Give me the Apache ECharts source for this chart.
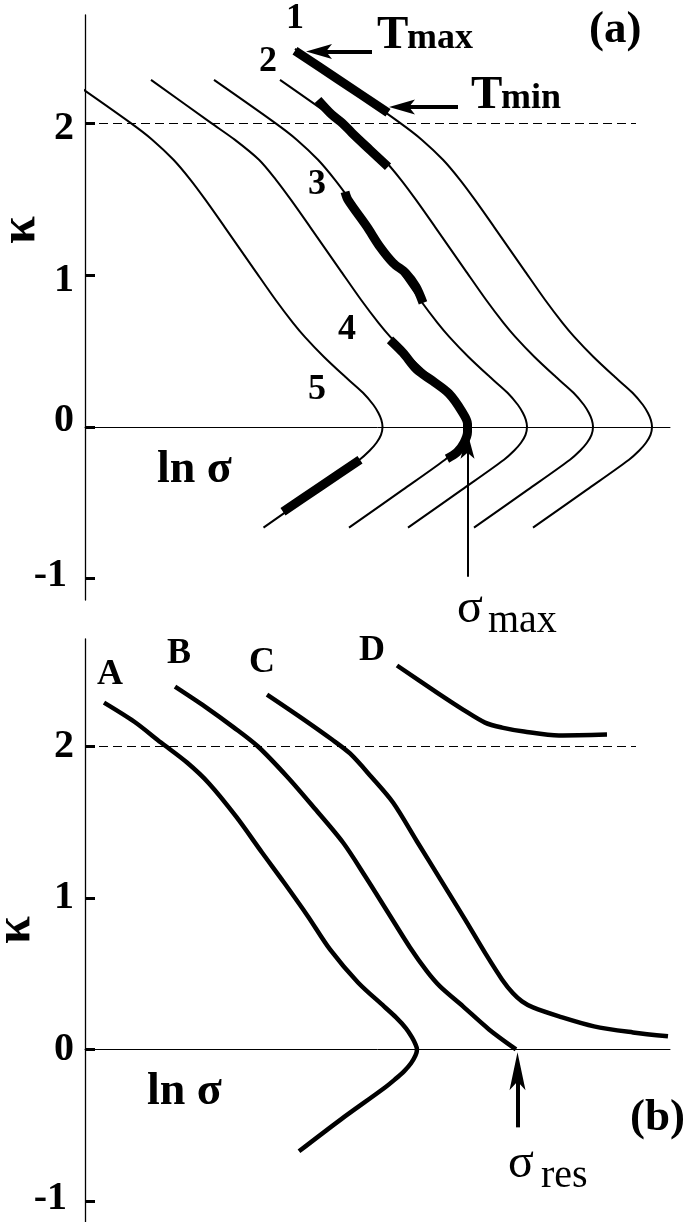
<!DOCTYPE html>
<html><head><meta charset="utf-8">
<script src="https://cdn.jsdelivr.net/npm/echarts@6/dist/echarts.min.js"></script>
<style>html,body{margin:0;padding:0;background:#fff}#c{width:685px;height:1222px}</style>
</head><body><div id="c"></div>
<script>
// ---- data (x = ln sigma, arbitrary units; y = kappa) ----
const kappaTicks = [-1, 0, 1, 2];
const kappaLabels = ['-1', '0', '1', '2'];

// panel (a): thin curves
const thin1 = [[-0.155,2.283],[0.455,2.000],[0.675,1.888],[0.885,1.757],[1.055,1.625],[1.205,1.493],[1.395,1.316],[1.695,1.033],[1.905,0.836],[2.080,0.684],[2.198,0.592],[2.388,0.461],[2.602,0.329],[2.780,0.224],[2.883,0.145],[2.933,0.092],[2.963,0.046],[2.975,0.000],[2.960,-0.053],[2.915,-0.105],[2.845,-0.158],[2.745,-0.217],[2.325,-0.414],[1.785,-0.664]];
const thin2 = [[0.66,2.283],[1.26,2.000],[1.50,1.888],[1.74,1.757],[1.91,1.625],[2.06,1.493],[2.25,1.316],[2.55,1.033],[2.76,0.836],[2.935,0.684],[3.053,0.592],[3.243,0.461],[3.457,0.329],[3.635,0.224],[3.738,0.145],[3.788,0.092],[3.818,0.046],[3.83,0.000],[3.815,-0.053],[3.77,-0.105],[3.70,-0.158],[3.60,-0.217],[3.18,-0.414],[2.64,-0.664]];
const thin3 = [[1.29,2.283],[1.90,2.000],[2.12,1.888],[2.33,1.757],[2.50,1.625],[2.65,1.493],[2.84,1.316],[3.14,1.033],[3.35,0.836],[3.525,0.684],[3.643,0.592],[3.833,0.461],[4.047,0.329],[4.225,0.224],[4.328,0.145],[4.378,0.092],[4.408,0.046],[4.42,0.000],[4.405,-0.053],[4.36,-0.105],[4.29,-0.158],[4.19,-0.217],[3.77,-0.414],[3.23,-0.664]];
const thin4 = [[1.95,2.283],[2.56,2.000],[2.78,1.888],[2.99,1.757],[3.16,1.625],[3.31,1.493],[3.50,1.316],[3.80,1.033],[4.01,0.836],[4.185,0.684],[4.303,0.592],[4.493,0.461],[4.707,0.329],[4.885,0.224],[4.988,0.145],[5.038,0.092],[5.068,0.046],[5.08,0.000],[5.065,-0.053],[5.02,-0.105],[4.95,-0.158],[4.85,-0.217],[4.43,-0.414],[3.89,-0.664]];
const thin5 = [[2.10,2.487],[2.54,2.283],[3.15,2.000],[3.37,1.888],[3.58,1.757],[3.75,1.625],[3.90,1.493],[4.09,1.316],[4.39,1.033],[4.60,0.836],[4.775,0.684],[4.893,0.592],[5.083,0.461],[5.297,0.329],[5.475,0.224],[5.578,0.145],[5.628,0.092],[5.658,0.046],[5.67,0.000],[5.655,-0.053],[5.61,-0.105],[5.54,-0.158],[5.44,-0.217],[5.02,-0.414],[4.48,-0.664]];

// panel (a): thick trajectory segments 1..5
const seg1 = [[2.10,2.474],[2.54,2.283],[3.03,2.066]];
const seg2 = [[2.33,2.151],[2.47,2.053],[2.57,2.000],[2.67,1.934],[2.85,1.822],[3.03,1.711]];
const seg3 = [[2.60,1.546],[2.63,1.493],[2.82,1.316],[2.95,1.184],[3.08,1.079],[3.21,1.010],[3.31,0.921],[3.38,0.816]];
const seg4 = [[3.05,0.572],[3.18,0.487],[3.32,0.375],[3.48,0.300],[3.64,0.218],[3.77,0.100],[3.825,0.020],[3.825,-0.035],[3.79,-0.105],[3.72,-0.168],[3.62,-0.210]];
const seg5 = [[2.75,-0.217],[2.35,-0.395],[1.98,-0.559]];

// panel (b): curves A..D
const curveA = [[0.19,2.290],[0.49,2.165],[0.76,2.026],[1.02,1.894],[1.24,1.756],[1.51,1.538],[1.77,1.300],[1.99,1.102],[2.23,0.878],[2.45,0.660],[2.73,0.442],[2.99,0.284],[3.11,0.211],[3.21,0.139],[3.27,0.079],[3.305,0.033],[3.32,0.000],[3.305,-0.040],[3.26,-0.092],[3.19,-0.145],[3.10,-0.198],[2.99,-0.257],[2.56,-0.462],[2.14,-0.673]];
const curveB = [[0.90,2.396],[1.20,2.264],[1.49,2.125],[1.73,2.000],[2.02,1.802],[2.28,1.604],[2.58,1.366],[2.81,1.135],[3.03,0.904],[3.25,0.673],[3.42,0.515],[3.55,0.416],[3.78,0.284],[4.04,0.132],[4.31,0.000]];
const curveC = [[1.82,2.343],[2.16,2.191],[2.47,2.046],[2.65,1.954],[2.86,1.802],[3.08,1.630],[3.32,1.373],[3.56,1.116],[3.80,0.858],[4.01,0.627],[4.17,0.462],[4.28,0.370],[4.37,0.317],[4.48,0.277],[4.74,0.218],[5.09,0.152],[5.48,0.112],[5.83,0.086]];
const curveD = [[3.12,2.535],[3.52,2.356],[3.78,2.244],[4.00,2.158],[4.17,2.125],[4.39,2.099],[4.74,2.073],[5.22,2.079]];

// reference levels / markers
const kappaDashed = 2;
const sigmaMaxX = 3.825;
const sigmaResX = 4.325;

// ---- chart ----
const FONT = '"Liberation Serif","Times New Roman",serif';
const ARROW = 'path://M6,0 L12,26 L6,20 L0,26 Z';
const chart = echarts.init(document.getElementById('c'), null, {renderer: 'canvas'});

function xAxisCfg(gi) {
  return {type: 'value', gridIndex: gi, min: 0, max: 5.85,
    axisLine: {show: true, onZero: true, lineStyle: {color: '#000', width: 1}},
    axisTick: {show: false}, axisLabel: {show: false}, splitLine: {show: false}};
}
function richShift(dy, padRight) {
  return {fontFamily: FONT, fontWeight: 'bold', fontSize: 40, color: '#000',
    padding: dy >= 0 ? [2 * dy, padRight, 0, 0] : [0, padRight, -2 * dy, 0]};
}
function yAxisCfg(gi, shifts) {
  return {type: 'value', gridIndex: gi, min: -1.14, max: 2.71,
    axisLine: {show: true, onZero: false, lineStyle: {color: '#000', width: 1.3}},
    axisTick: {show: true, inside: true, length: 10, customValues: kappaTicks, lineStyle: {color: '#000', width: 3}},
    axisLabel: {show: true, customValues: kappaTicks, margin: 11, color: '#000',
      fontFamily: FONT, fontWeight: 'bold', fontSize: 40,
      formatter: function (v) { const i = kappaTicks.indexOf(Math.round(v)); return '{s' + i + '|' + kappaLabels[i] + '}'; },
      rich: shifts},
    splitLine: {show: false}};
}
const shiftsA = {s0: richShift(-3, 7), s1: richShift(-6, 0), s2: richShift(6, 0), s3: richShift(6, 0)};
const shiftsB = {s0: richShift(-2, 7), s1: richShift(0, 0), s2: richShift(0, 0), s3: richShift(0, 0)};

function line(data, gi, w, clip, z) {
  return {type: 'line', xAxisIndex: gi, yAxisIndex: gi, data: data, showSymbol: false, smooth: 0.3,
    clip: clip, lineStyle: {color: '#000', width: w, cap: 'butt', join: 'round'}, silent: true, z: z};
}
function arrowSeries(gi, x1, y1, x2, y2, w, size) {
  return {type: 'line', xAxisIndex: gi, yAxisIndex: gi, data: [], silent: true, z: 4,
    markLine: {silent: true, animation: false, label: {show: false},
      symbol: ['none', ARROW], symbolSize: size,
      lineStyle: {color: '#000', width: w, type: 'solid'},
      itemStyle: {color: '#000'},
      data: [[{coord: [x1, y1]}, {coord: [x2, y2]}]]}};
}
const dashedLine = {silent: true, symbol: 'none', label: {show: false},
  lineStyle: {type: [9, 5], color: '#000', width: 1},
  data: [[{coord: [0, kappaDashed]}, {coord: [5.51, kappaDashed]}]]};

function txt(x, y, text, size, weight, align, extra) {
  return Object.assign({type: 'text', x: x, y: y, silent: true, z: 10,
    style: {text: text, fill: '#000', font: weight + ' ' + size + 'px ' + FONT,
      align: align || 'center', verticalAlign: 'middle'}}, extra || {});
}

const option = {
  animation: false,
  backgroundColor: '#fff',
  grid: [
    {left: 85, top: 15, width: 585, height: 585},
    {left: 85, top: 639, width: 585, height: 583}
  ],
  xAxis: [xAxisCfg(0), xAxisCfg(1)],
  yAxis: [yAxisCfg(0, shiftsA), yAxisCfg(1, shiftsB)],
  series: [
    Object.assign(line(thin1, 0, 2, false, 2), {markLine: dashedLine}),
    line(thin2, 0, 2, true, 2), line(thin3, 0, 2, true, 2), line(thin4, 0, 2, true, 2), line(thin5, 0, 2, true, 2),
    line(seg1, 0, 9, false, 3), line(seg2, 0, 9, false, 3), line(seg3, 0, 9, false, 3), line(seg4, 0, 9, false, 3), line(seg5, 0, 9, false, 3),
    arrowSeries(0, 2.87, 2.469, 2.34, 2.469, 4, [15, 26]),
    arrowSeries(0, 3.73, 2.105, 3.17, 2.105, 4, [15, 26]),
    arrowSeries(0, sigmaMaxX, -0.987, sigmaMaxX, -0.125, 2, [14, 26]),
    Object.assign(line(curveA, 1, 4.5, true, 2), {markLine: dashedLine}),
    line(curveB, 1, 4.5, true, 2), line(curveC, 1, 4.5, true, 2), line(curveD, 1, 4.5, true, 2),
    arrowSeries(1, sigmaResX, -0.515, sigmaResX, -0.145, 4, [16, 38])
  ],
  graphic: [
    // panel (a)
    txt(21, 230, 'κ', 50, 'bold', 'center', {rotation: Math.PI / 2}),
    txt(295, 19, '1', 36, 'bold'),
    txt(268, 62, '2', 36, 'bold'),
    txt(317, 185, '3', 36, 'bold'),
    txt(347, 330, '4', 36, 'bold'),
    txt(317, 390, '5', 36, 'bold'),
    txt(377, 36, 'T', 47, 'bold', 'left'),
    txt(407, 39, 'max', 36, 'bold', 'left'),
    txt(471, 96, 'T', 47, 'bold', 'left'),
    txt(501, 99, 'min', 36, 'bold', 'left'),
    txt(589, 30, '(a)', 45, 'bold', 'left'),
    txt(157, 470, 'ln σ', 46, 'bold', 'left'),
    txt(457, 609, 'σ', 48, 'normal', 'left'),
    txt(488, 621, 'max', 40, 'normal', 'left'),
    // panel (b)
    txt(16, 930, 'κ', 50, 'bold', 'center', {rotation: Math.PI / 2}),
    txt(110, 675, 'A', 36, 'bold'),
    txt(179, 654, 'B', 36, 'bold'),
    txt(262, 663, 'C', 36, 'bold'),
    txt(372, 651, 'D', 36, 'bold'),
    txt(147, 1092, 'ln σ', 46, 'bold', 'left'),
    txt(630, 1118, '(b)', 45, 'bold', 'left'),
    txt(508, 1164, 'σ', 48, 'normal', 'left'),
    txt(541, 1176, 'res', 40, 'normal', 'left')
  ]
};
chart.setOption(option);
</script></body></html>
